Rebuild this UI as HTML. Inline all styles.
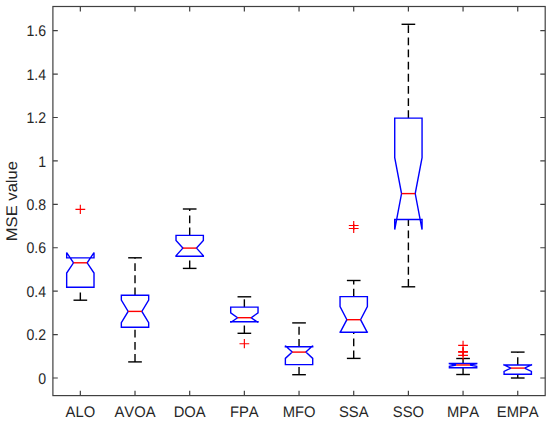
<!DOCTYPE html>
<html><head><meta charset="utf-8"><style>
html,body{margin:0;padding:0;background:#fff;}
body{width:550px;height:423px;overflow:hidden;}
svg{display:block;}
text{font-family:"Liberation Sans",sans-serif;fill:#262626;font-kerning:none;text-rendering:geometricPrecision;}
</style></head><body>
<svg width="550" height="423" viewBox="0 0 550 423">
<rect x="0" y="0" width="550" height="423" fill="#fff"/>
<line x1="80.34" y1="300.2" x2="80.34" y2="287.3" stroke="#000" stroke-width="1.4" stroke-dasharray="7.8 4.35"/>
<line x1="73.5" y1="300.2" x2="87.17" y2="300.2" stroke="#000" stroke-width="1.4"/>
<polygon points="66.67,287.3 66.67,273 73.5,262.8 66.67,252.6 66.67,257.9 94.01,257.9 94.01,252.6 87.17,262.8 94.01,273 94.01,287.3" fill="none" stroke="#00f" stroke-width="1.4" stroke-linejoin="miter" stroke-miterlimit="2"/>
<line x1="73.5" y1="262.8" x2="87.17" y2="262.8" stroke="#f00" stroke-width="1.4"/>
<path d="M75.44 209.35H85.24M80.34 204.75V213.95" stroke="#f00" stroke-width="1.15" fill="none"/>
<line x1="135.01" y1="295.3" x2="135.01" y2="257.8" stroke="#000" stroke-width="1.4" stroke-dasharray="7.8 4.35"/>
<line x1="135.01" y1="361.9" x2="135.01" y2="327.2" stroke="#000" stroke-width="1.4" stroke-dasharray="7.8 4.35"/>
<line x1="128.18" y1="257.8" x2="141.85" y2="257.8" stroke="#000" stroke-width="1.4"/>
<line x1="128.18" y1="361.9" x2="141.85" y2="361.9" stroke="#000" stroke-width="1.4"/>
<polygon points="121.34,327.2 121.34,322.7 128.18,311.4 121.34,300.1 121.34,295.3 148.68,295.3 148.68,300.1 141.85,311.4 148.68,322.7 148.68,327.2" fill="none" stroke="#00f" stroke-width="1.4" stroke-linejoin="miter" stroke-miterlimit="2"/>
<line x1="128.18" y1="311.4" x2="141.85" y2="311.4" stroke="#f00" stroke-width="1.4"/>
<line x1="189.69" y1="235.4" x2="189.69" y2="209" stroke="#000" stroke-width="1.4" stroke-dasharray="7.8 4.35"/>
<line x1="189.69" y1="268.4" x2="189.69" y2="256.2" stroke="#000" stroke-width="1.4" stroke-dasharray="7.8 4.35"/>
<line x1="182.85" y1="209" x2="196.52" y2="209" stroke="#000" stroke-width="1.4"/>
<line x1="182.85" y1="268.4" x2="196.52" y2="268.4" stroke="#000" stroke-width="1.4"/>
<polygon points="176.02,256.2 176.02,255.7 182.85,248.1 176.02,240.5 176.02,235.4 203.36,235.4 203.36,240.5 196.52,248.1 203.36,255.7 203.36,256.2" fill="none" stroke="#00f" stroke-width="1.4" stroke-linejoin="miter" stroke-miterlimit="2"/>
<line x1="182.85" y1="248.1" x2="196.52" y2="248.1" stroke="#f00" stroke-width="1.4"/>
<line x1="244.36" y1="307.1" x2="244.36" y2="296.8" stroke="#000" stroke-width="1.4" stroke-dasharray="7.8 4.35"/>
<line x1="244.36" y1="333.3" x2="244.36" y2="321.7" stroke="#000" stroke-width="1.4" stroke-dasharray="7.8 4.35"/>
<line x1="237.53" y1="296.8" x2="251.2" y2="296.8" stroke="#000" stroke-width="1.4"/>
<line x1="237.53" y1="333.3" x2="251.2" y2="333.3" stroke="#000" stroke-width="1.4"/>
<polygon points="230.69,321.7 230.69,322.5 237.53,317.7 230.69,312.9 230.69,307.1 258.03,307.1 258.03,312.9 251.2,317.7 258.03,322.5 258.03,321.7" fill="none" stroke="#00f" stroke-width="1.4" stroke-linejoin="miter" stroke-miterlimit="2"/>
<line x1="237.53" y1="317.7" x2="251.2" y2="317.7" stroke="#f00" stroke-width="1.4"/>
<path d="M239.46 343.7H249.26M244.36 339.1V348.3" stroke="#f00" stroke-width="1.15" fill="none"/>
<line x1="299.04" y1="346.8" x2="299.04" y2="322.9" stroke="#000" stroke-width="1.4" stroke-dasharray="7.8 4.35"/>
<line x1="299.04" y1="374.7" x2="299.04" y2="364.6" stroke="#000" stroke-width="1.4" stroke-dasharray="7.8 4.35"/>
<line x1="292.2" y1="322.9" x2="305.87" y2="322.9" stroke="#000" stroke-width="1.4"/>
<line x1="292.2" y1="374.7" x2="305.87" y2="374.7" stroke="#000" stroke-width="1.4"/>
<polygon points="285.37,364.6 285.37,358.4 292.2,352.1 285.37,345.8 285.37,346.8 312.71,346.8 312.71,345.8 305.87,352.1 312.71,358.4 312.71,364.6" fill="none" stroke="#00f" stroke-width="1.4" stroke-linejoin="miter" stroke-miterlimit="2"/>
<line x1="292.2" y1="352.1" x2="305.87" y2="352.1" stroke="#f00" stroke-width="1.4"/>
<line x1="353.71" y1="296.6" x2="353.71" y2="280.5" stroke="#000" stroke-width="1.4" stroke-dasharray="7.8 4.35"/>
<line x1="353.71" y1="358.4" x2="353.71" y2="332.2" stroke="#000" stroke-width="1.4" stroke-dasharray="7.8 4.35"/>
<line x1="346.88" y1="280.5" x2="360.55" y2="280.5" stroke="#000" stroke-width="1.4"/>
<line x1="346.88" y1="358.4" x2="360.55" y2="358.4" stroke="#000" stroke-width="1.4"/>
<polygon points="340.04,332.2 340.04,332.7 346.88,319.7 340.04,306.7 340.04,296.6 367.38,296.6 367.38,306.7 360.55,319.7 367.38,332.7 367.38,332.2" fill="none" stroke="#00f" stroke-width="1.4" stroke-linejoin="miter" stroke-miterlimit="2"/>
<line x1="346.88" y1="319.7" x2="360.55" y2="319.7" stroke="#f00" stroke-width="1.4"/>
<path d="M348.81 225.5H358.61M353.71 220.9V230.1" stroke="#f00" stroke-width="1.15" fill="none"/>
<path d="M348.81 228.5H358.61M353.71 223.9V233.1" stroke="#f00" stroke-width="1.15" fill="none"/>
<line x1="408.39" y1="118.1" x2="408.39" y2="24.3" stroke="#000" stroke-width="1.4" stroke-dasharray="7.8 4.35"/>
<line x1="408.39" y1="286.8" x2="408.39" y2="219.5" stroke="#000" stroke-width="1.4" stroke-dasharray="7.8 4.35"/>
<line x1="401.55" y1="24.3" x2="415.22" y2="24.3" stroke="#000" stroke-width="1.4"/>
<line x1="401.55" y1="286.8" x2="415.22" y2="286.8" stroke="#000" stroke-width="1.4"/>
<polygon points="394.72,219.5 394.72,229.6 401.55,193.6 394.72,157.7 394.72,118.1 422.06,118.1 422.06,157.7 415.22,193.6 422.06,229.6 422.06,219.5" fill="none" stroke="#00f" stroke-width="1.4" stroke-linejoin="miter" stroke-miterlimit="2"/>
<line x1="401.55" y1="193.6" x2="415.22" y2="193.6" stroke="#f00" stroke-width="1.4"/>
<line x1="463.06" y1="363.5" x2="463.06" y2="358.5" stroke="#000" stroke-width="1.4" stroke-dasharray="7.8 4.35"/>
<line x1="463.06" y1="374.5" x2="463.06" y2="367.7" stroke="#000" stroke-width="1.4" stroke-dasharray="7.8 4.35"/>
<line x1="456.23" y1="358.5" x2="469.9" y2="358.5" stroke="#000" stroke-width="1.4"/>
<line x1="456.23" y1="374.5" x2="469.9" y2="374.5" stroke="#000" stroke-width="1.4"/>
<polygon points="449.39,367.7 449.39,366.3 456.23,365 449.39,363.7 449.39,363.5 476.73,363.5 476.73,363.7 469.9,365 476.73,366.3 476.73,367.7" fill="none" stroke="#00f" stroke-width="1.4" stroke-linejoin="miter" stroke-miterlimit="2"/>
<line x1="456.23" y1="365" x2="469.9" y2="365" stroke="#f00" stroke-width="1.4"/>
<path d="M458.16 345.4H467.96M463.06 340.8V350" stroke="#f00" stroke-width="1.15" fill="none"/>
<path d="M458.16 351.6H467.96M463.06 347V356.2" stroke="#f00" stroke-width="1.15" fill="none"/>
<path d="M458.16 352.1H467.96M463.06 347.5V356.7" stroke="#f00" stroke-width="1.15" fill="none"/>
<path d="M458.16 355.3H467.96M463.06 350.7V359.9" stroke="#f00" stroke-width="1.15" fill="none"/>
<line x1="517.74" y1="365" x2="517.74" y2="352.1" stroke="#000" stroke-width="1.4" stroke-dasharray="7.8 4.35"/>
<line x1="517.74" y1="378" x2="517.74" y2="374.3" stroke="#000" stroke-width="1.4" stroke-dasharray="7.8 4.35"/>
<line x1="510.9" y1="352.1" x2="524.57" y2="352.1" stroke="#000" stroke-width="1.4"/>
<line x1="510.9" y1="378" x2="524.57" y2="378" stroke="#000" stroke-width="1.4"/>
<polygon points="504.07,374.3 504.07,371.4 510.9,368.1 504.07,364.9 504.07,365 531.41,365 531.41,364.9 524.57,368.1 531.41,371.4 531.41,374.3" fill="none" stroke="#00f" stroke-width="1.4" stroke-linejoin="miter" stroke-miterlimit="2"/>
<line x1="510.9" y1="368.1" x2="524.57" y2="368.1" stroke="#f00" stroke-width="1.4"/>
<rect x="52.9" y="6.5" width="492.3" height="389.1" fill="none" stroke="#404040" stroke-width="1.2"/>
<path d="M80.34 395.6V390.7M80.34 6.5V11.4M135.01 395.6V390.7M135.01 6.5V11.4M189.69 395.6V390.7M189.69 6.5V11.4M244.36 395.6V390.7M244.36 6.5V11.4M299.04 395.6V390.7M299.04 6.5V11.4M353.71 395.6V390.7M353.71 6.5V11.4M408.39 395.6V390.7M408.39 6.5V11.4M463.06 395.6V390.7M463.06 6.5V11.4M517.74 395.6V390.7M517.74 6.5V11.4M52.9 378H57.8M545.2 378H540.3M52.9 334.58H57.8M545.2 334.58H540.3M52.9 291.16H57.8M545.2 291.16H540.3M52.9 247.74H57.8M545.2 247.74H540.3M52.9 204.32H57.8M545.2 204.32H540.3M52.9 160.9H57.8M545.2 160.9H540.3M52.9 117.48H57.8M545.2 117.48H540.3M52.9 74.06H57.8M545.2 74.06H540.3M52.9 30.64H57.8M545.2 30.64H540.3" stroke="#404040" stroke-width="1.2" fill="none"/>
<text font-size="15" text-anchor="end" transform="translate(46 383.6) scale(0.94 1.03)">0</text>
<text font-size="15" text-anchor="end" transform="translate(46 340.18) scale(0.94 1.03)">0.2</text>
<text font-size="15" text-anchor="end" transform="translate(46 296.76) scale(0.94 1.03)">0.4</text>
<text font-size="15" text-anchor="end" transform="translate(46 253.34) scale(0.94 1.03)">0.6</text>
<text font-size="15" text-anchor="end" transform="translate(46 209.92) scale(0.94 1.03)">0.8</text>
<text font-size="15" text-anchor="end" transform="translate(46 166.5) scale(0.94 1.03)">1</text>
<text font-size="15" text-anchor="end" transform="translate(46 123.08) scale(0.94 1.03)">1.2</text>
<text font-size="15" text-anchor="end" transform="translate(46 79.66) scale(0.94 1.03)">1.4</text>
<text font-size="15" text-anchor="end" transform="translate(46 36.24) scale(0.94 1.03)">1.6</text>
<text font-size="15" text-anchor="middle" transform="translate(80.34 417.1) scale(0.985 1.02)">ALO</text>
<text font-size="15" text-anchor="middle" transform="translate(135.01 417.1) scale(0.985 1.02)">AVOA</text>
<text font-size="15" text-anchor="middle" transform="translate(189.69 417.1) scale(0.985 1.02)">DOA</text>
<text font-size="15" text-anchor="middle" transform="translate(244.36 417.1) scale(0.985 1.02)">FPA</text>
<text font-size="15" text-anchor="middle" transform="translate(299.04 417.1) scale(0.985 1.02)">MFO</text>
<text font-size="15" text-anchor="middle" transform="translate(353.71 417.1) scale(0.985 1.02)">SSA</text>
<text font-size="15" text-anchor="middle" transform="translate(408.39 417.1) scale(0.985 1.02)">SSO</text>
<text font-size="15" text-anchor="middle" transform="translate(463.06 417.1) scale(0.985 1.02)">MPA</text>
<text font-size="15" text-anchor="middle" transform="translate(517.74 417.1) scale(0.985 1.02)">EMPA</text>
<text font-size="16.6" text-anchor="middle" transform="translate(17.4 201.1) rotate(-90) scale(1.0 0.93)">MSE value</text>
</svg>
</body></html>
